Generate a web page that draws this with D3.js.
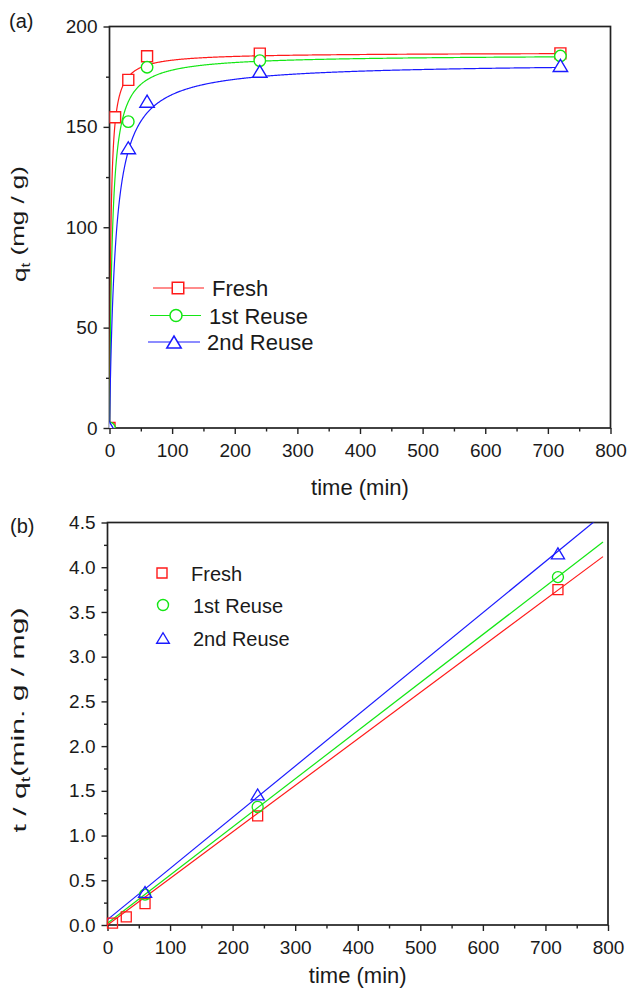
<!DOCTYPE html>
<html><head><meta charset="utf-8">
<script src="https://cdn.jsdelivr.net/npm/d3@7"></script>
<style>body{margin:0;background:#fff} text{font-family:"Liberation Sans",Arial,sans-serif;fill:#1a1a1a}</style>
</head><body><svg id="c" width="627" height="990"></svg>
<script>
// ---------- data ----------
const seriesNames = ["Fresh", "1st Reuse", "2nd Reuse"];
const seriesColors = ["#ff1a1a", "#14e614", "#1a1aff"];
const seriesShapes = ["square", "circle", "triangle"];

// panel (a): q_t vs time
const timeFreshA = [0, 9, 30, 60, 240, 720];
const qFresh = [0, 154.8, 173.4, 185.2, 186.5, 186.6];
const timeReuseA = [0, 30, 60, 240, 720];
const q1stReuse = [0, 152.6, 179.7, 183.0, 185.3];
const q2ndReuse = [0, 139.6, 162.8, 177.7, 180.6];
// pseudo-second-order fit parameters (qe, initial rate h)
const fitQe = [187, 186, 182];
const fitH = [90.6, 42.9, 19.0];
const fitTEnd = 720;

// panel (b): t/q_t vs time
const timeFreshB = [8, 30, 60, 240, 720];
const tqFresh = [0.02, 0.09, 0.24, 1.22, 3.75];
const timeReuseB = [60, 240, 720];
const tq1stReuse = [0.34, 1.32, 3.89];
const tq2ndReuse = [0.37, 1.46, 4.155];
// linear fit parameters
const lineIntercept = [0.0, 0.02, 0.06];
const lineSlope = [0.0052, 0.00538, 0.00572];
const lineTEnd = 792;

// ticks
const xTicks = [0, 100, 200, 300, 400, 500, 600, 700, 800];
const xMinor = [50, 150, 250, 350, 450, 550, 650, 750];
const yTicksA = [0, 50, 100, 150, 200];
const yMinorA = [25, 75, 125, 175];
const yTicksB = [0, 0.5, 1, 1.5, 2, 2.5, 3, 3.5, 4, 4.5];
const yTickLabelsB = ["0.0", "0.5", "1.0", "1.5", "2.0", "2.5", "3.0", "3.5", "4.0", "4.5"];
const yMinorB = [0.25, 0.75, 1.25, 1.75, 2.25, 2.75, 3.25, 3.75, 4.25];

// ---------- drawing ----------
const svg = d3.select("#c");

function markerPath(shape, size) {
  if (shape === "square") { const s = size / 2; return `M${-s},${-s}H${s}V${s}H${-s}Z`; }
  if (shape === "circle") { const r = size / 2; return `M${r},0A${r},${r} 0 1,1 ${-r},0A${r},${r} 0 1,1 ${r},0Z`; }
  const w = size * 1.2, h = size * 1.0;
  return `M${-w / 2},${h / 2}L${w / 2},${h / 2}L0,${-h / 2}Z`;
}

function panel(opt) {
  const g = svg.append("g");
  const x = d3.scaleLinear().domain([0, 800]).range([opt.L, opt.R]);
  const y = d3.scaleLinear().domain(opt.yDomain).range([opt.B, opt.T]);
  const clipId = "clip" + opt.id;
  svg.append("clipPath").attr("id", clipId).append("rect")
    .attr("x", opt.L).attr("y", opt.T).attr("width", opt.R - opt.L).attr("height", opt.B - opt.T);

  const ax = g.append("g").attr("transform", `translate(0,${opt.B})`)
    .call(d3.axisBottom(x).tickValues(xTicks).tickSize(6).tickPadding(6).tickFormat(d3.format("d")));
  g.append("g").attr("transform", `translate(0,${opt.B})`)
    .call(d3.axisBottom(x).tickValues(xMinor).tickSize(3.5).tickFormat(""));
  g.append("g").attr("transform", `translate(${opt.L},0)`)
    .call(d3.axisLeft(y).tickValues(opt.yTicks).tickSize(6).tickPadding(6)
      .tickFormat((d, i) => opt.yLabels ? opt.yLabels[i] : d3.format("d")(d)));
  g.append("g").attr("transform", `translate(${opt.L},0)`)
    .call(d3.axisLeft(y).tickValues(opt.yMinor).tickSize(3.5).tickFormat(""));
  g.selectAll(".domain").remove();
  g.selectAll(".tick line").attr("stroke", "#222").attr("stroke-width", 1.4);
  g.selectAll(".tick text").style("font-size", "19px").attr("fill", "#1a1a1a");
  ax.selectAll(".tick text").attr("dy", "0.92em");

  g.append("rect").attr("x", opt.L).attr("y", opt.T).attr("width", opt.R - opt.L).attr("height", opt.B - opt.T)
    .attr("fill", "none").attr("stroke", "#222").attr("stroke-width", 1.7);

  g.append("text").attr("x", (opt.L + opt.R) / 2).attr("y", opt.xTitleY).attr("text-anchor", "middle")
    .style("font-size", "22px").text("time (min)");

  // y title: stretched along its length like the original
  const yt = g.append("text").attr("text-anchor", "middle").style("font-size", "18px");
  opt.yTitle(yt);
  const natural = yt.node().getComputedTextLength();
  const sx = opt.yTitleLen / natural;
  yt.attr("transform", `translate(${opt.yTitleX},${opt.yTitleCY}) rotate(-90) scale(${sx},1)`);

  g.append("text").attr("x", opt.letterX).attr("y", opt.letterY).style("font-size", "20px").text(opt.letter);
  return { g, x, y, clipId };
}

// ---- panel (a)
const pa = panel({
  id: "a", L: 109.5, R: 610.5, T: 26.5, B: 428, yDomain: [0, 200],
  yTicks: yTicksA, yMinor: yMinorA, xTitleY: 495, yTitleX: 26, yTitleCY: 224, yTitleLen: 116,
  letter: "(a)", letterX: 9, letterY: 28,
  yTitle: t => {
    t.append("tspan").text("q");
    t.append("tspan").attr("dy", "0.35em").style("font-size", "12px").text("t");
    t.append("tspan").attr("dy", "-0.35em").text(" (mg / g)");
  }
});

const seriesA = [
  { t: timeFreshA, q: qFresh },
  { t: timeReuseA, q: q1stReuse },
  { t: timeReuseA, q: q2ndReuse }
];
const plotA = pa.g.append("g").attr("clip-path", `url(#${pa.clipId})`);
seriesA.forEach((s, i) => {
  const ts = d3.range(0, 20, 0.1).concat(d3.range(20, fitTEnd + 0.001, 1));
  const curve = ts.map(t => [t, fitH[i] * t / (1 + fitH[i] * t / fitQe[i])]);
  plotA.append("path").datum(curve)
    .attr("d", d3.line().x(d => pa.x(d[0])).y(d => pa.y(d[1])))
    .attr("fill", "none").attr("stroke", seriesColors[i]).attr("stroke-width", 1.2);
  const sizes = [11, 11.5, 12];
  plotA.selectAll(null).data(s.t.map((t, k) => [t, s.q[k]])).enter().append("path")
    .attr("transform", d => `translate(${pa.x(d[0])},${pa.y(d[1])})`)
    .attr("d", markerPath(seriesShapes[i], sizes[i]))
    .attr("fill", "#fff").attr("stroke", seriesColors[i]).attr("stroke-width", 1.4);
});

const legA = [{ y: 288, mx: 178, x1: 153, x2: 204, tx: 212 },
              { y: 315.5, mx: 176, x1: 150, x2: 201, tx: 209 },
              { y: 342, mx: 174, x1: 148, x2: 200, tx: 207 }];
legA.forEach((l, i) => {
  pa.g.append("line").attr("x1", l.x1).attr("x2", l.x2).attr("y1", l.y).attr("y2", l.y)
    .attr("stroke", seriesColors[i]).attr("stroke-width", 1.2);
  pa.g.append("path").attr("transform", `translate(${l.mx},${l.y})`)
    .attr("d", markerPath(seriesShapes[i], [11.5, 12, 12][i]))
    .attr("fill", "#fff").attr("stroke", seriesColors[i]).attr("stroke-width", 1.5);
  pa.g.append("text").attr("x", l.tx).attr("y", l.y + 8).style("font-size", "22px").text(seriesNames[i]);
});

// ---- panel (b)
const pb = panel({
  id: "b", L: 107.5, R: 608, T: 522.5, B: 925, yDomain: [0, 4.5],
  yTicks: yTicksB, yLabels: yTickLabelsB, yMinor: yMinorB, xTitleY: 983,
  yTitleX: 26, yTitleCY: 720, yTitleLen: 225,
  letter: "(b)", letterX: 10, letterY: 533,
  yTitle: t => {
    t.append("tspan").text("t / q");
    t.append("tspan").attr("dy", "0.35em").style("font-size", "12px").text("t");
    t.append("tspan").attr("dy", "-0.35em").text("(min. g / mg)");
  }
});
const seriesB = [
  { t: timeFreshB, v: tqFresh },
  { t: timeReuseB, v: tq1stReuse },
  { t: timeReuseB, v: tq2ndReuse }
];
const plotB = pb.g.append("g").attr("clip-path", `url(#${pb.clipId})`);
seriesB.forEach((s, i) => {
  const ends = [0, lineTEnd].map(t => [t, lineIntercept[i] + lineSlope[i] * t]);
  plotB.append("path").datum(ends)
    .attr("d", d3.line().x(d => pb.x(d[0])).y(d => pb.y(d[1])))
    .attr("fill", "none").attr("stroke", seriesColors[i]).attr("stroke-width", 1.2);
});
const plotBm = pb.g.append("g");
seriesB.forEach((s, i) => {
  plotBm.selectAll(null).data(s.t.map((t, k) => [t, s.v[k]])).enter().append("path")
    .attr("transform", d => `translate(${pb.x(d[0])},${pb.y(d[1])})`)
    .attr("d", markerPath(seriesShapes[i], [10, 11, 11][i]))
    .attr("fill", "none").attr("stroke", seriesColors[i]).attr("stroke-width", 1.3);
});
const legB = [{ y: 573, mx: 162, tx: 191 }, { y: 605, mx: 163, tx: 193 }, { y: 638, mx: 163, tx: 193 }];
legB.forEach((l, i) => {
  pb.g.append("path").attr("transform", `translate(${l.mx},${l.y})`)
    .attr("d", markerPath(seriesShapes[i], [10, 11, 10.5][i]))
    .attr("fill", "none").attr("stroke", seriesColors[i]).attr("stroke-width", 1.4);
  pb.g.append("text").attr("x", l.tx).attr("y", l.y + 8).style("font-size", "20px").text(seriesNames[i]);
});
</script></body></html>
